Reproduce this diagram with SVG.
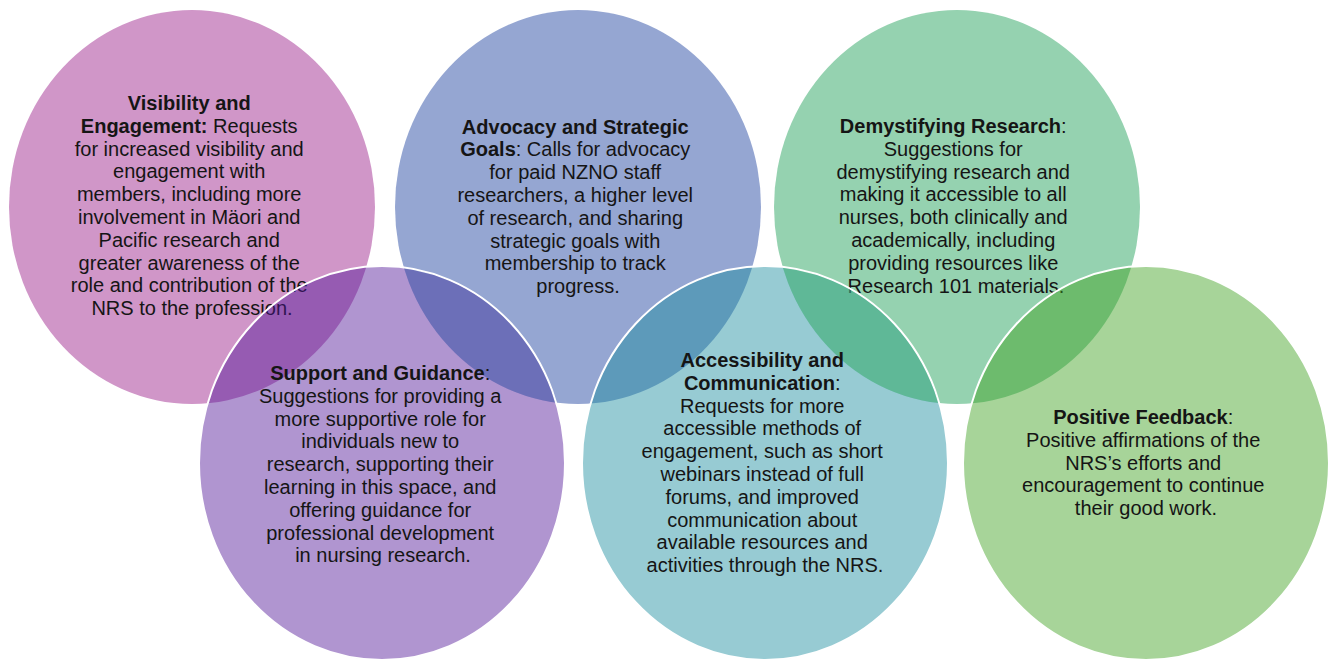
<svg xmlns="http://www.w3.org/2000/svg" width="1331" height="662" viewBox="0 0 1331 662">
<style>
  .t { font-family: "Liberation Sans", Arial, sans-serif; font-size: 20px; fill: #151515; text-anchor: middle; }
  .b { font-weight: bold; }
  .bot { fill-opacity: 0.45; stroke: #ffffff; stroke-width: 2; }
  .tint { opacity: 0.3; }
</style>
<defs>
  <clipPath id="clip-support"><ellipse cx="382" cy="463" rx="182" ry="196"/></clipPath>
  <clipPath id="clip-access"><ellipse cx="765" cy="463" rx="182" ry="196"/></clipPath>
</defs>
<rect width="1331" height="662" fill="#ffffff"/>
<g id="node-visibility">
  <ellipse cx="192" cy="207" rx="183" ry="197" fill="#d096c8"/>
  <text class="t" y="110">
    <tspan x="192" class="b">Visibility and</tspan>
    <tspan x="192" dy="22.8"><tspan class="b">Engagement:</tspan> Requests</tspan>
    <tspan x="192" dy="22.8">for increased visibility and</tspan>
    <tspan x="192" dy="22.8">engagement with</tspan>
    <tspan x="192" dy="22.8">members, including more</tspan>
    <tspan x="192" dy="22.8">involvement in Mäori and</tspan>
    <tspan x="192" dy="22.8">Pacific research and</tspan>
    <tspan x="192" dy="22.8">greater awareness of the</tspan>
    <tspan x="192" dy="22.8">role and contribution of the</tspan>
    <tspan x="192" dy="22.8">NRS to the profession.</tspan>
  </text>
</g>
<g id="node-advocacy">
  <ellipse cx="578" cy="207" rx="183" ry="197" fill="#95a6d2"/>
  <text class="t" y="133.5">
    <tspan x="578" class="b">Advocacy and Strategic</tspan>
    <tspan x="578" dy="22.8"><tspan class="b">Goals</tspan>: Calls for advocacy</tspan>
    <tspan x="578" dy="22.8">for paid NZNO staff</tspan>
    <tspan x="578" dy="22.8">researchers, a higher level</tspan>
    <tspan x="578" dy="22.8">of research, and sharing</tspan>
    <tspan x="578" dy="22.8">strategic goals with</tspan>
    <tspan x="578" dy="22.8">membership to track</tspan>
    <tspan x="578" dy="22.8">progress.</tspan>
  </text>
</g>
<g id="node-demystifying">
  <ellipse cx="957" cy="207" rx="183" ry="197" fill="#95d2b0"/>
  <text class="t" y="133">
    <tspan x="956" dy="0"><tspan class="b">Demystifying Research</tspan>:</tspan>
    <tspan x="956" dy="22.8">Suggestions for</tspan>
    <tspan x="956" dy="22.8">demystifying research and</tspan>
    <tspan x="956" dy="22.8">making it accessible to all</tspan>
    <tspan x="956" dy="22.8">nurses, both clinically and</tspan>
    <tspan x="956" dy="22.8">academically, including</tspan>
    <tspan x="956" dy="22.8">providing resources like</tspan>
    <tspan x="956" dy="22.8">Research 101 materials.</tspan>
  </text>
</g>
<g id="node-support">
  <ellipse class="bot" cx="382" cy="463" rx="183" ry="197" fill="#4f1397"/>
  <ellipse class="tint" clip-path="url(#clip-support)" cx="578" cy="207" rx="183" ry="197" fill="#558cbe"/>
  <text class="t" y="380">
    <tspan x="383" dy="0"><tspan class="b">Support and Guidance</tspan>:</tspan>
    <tspan x="383" dy="22.8">Suggestions for providing a</tspan>
    <tspan x="383" dy="22.8">more supportive role for</tspan>
    <tspan x="383" dy="22.8">individuals new to</tspan>
    <tspan x="383" dy="22.8">research, supporting their</tspan>
    <tspan x="383" dy="22.8">learning in this space, and</tspan>
    <tspan x="383" dy="22.8">offering guidance for</tspan>
    <tspan x="383" dy="22.8">professional development</tspan>
    <tspan x="383" dy="22.8">in nursing research.</tspan>
  </text>
</g>
<g id="node-accessibility">
  <ellipse class="bot" cx="765" cy="463" rx="183" ry="197" fill="#188b9d"/>
  <ellipse class="tint" clip-path="url(#clip-access)" cx="957" cy="207" rx="183" ry="197" fill="#64c673"/>
  <text class="t" y="367">
    <tspan x="765" class="b">Accessibility and</tspan>
    <tspan x="765" dy="22.8"><tspan class="b">Communication</tspan>:</tspan>
    <tspan x="765" dy="22.8">Requests for more</tspan>
    <tspan x="765" dy="22.8">accessible methods of</tspan>
    <tspan x="765" dy="22.8">engagement, such as short</tspan>
    <tspan x="765" dy="22.8">webinars instead of full</tspan>
    <tspan x="765" dy="22.8">forums, and improved</tspan>
    <tspan x="765" dy="22.8">communication about</tspan>
    <tspan x="765" dy="22.8">available resources and</tspan>
    <tspan x="765" dy="22.8">activities through the NRS.</tspan>
  </text>
</g>
<g id="node-positive">
  <ellipse class="bot" cx="1146" cy="463" rx="183" ry="197" fill="#3b9f1c"/>
  <text class="t" y="424">
    <tspan x="1146" dy="0"><tspan class="b">Positive Feedback</tspan>:</tspan>
    <tspan x="1146" dy="22.8">Positive affirmations of the</tspan>
    <tspan x="1146" dy="22.8">NRS’s efforts and</tspan>
    <tspan x="1146" dy="22.8">encouragement to continue</tspan>
    <tspan x="1146" dy="22.8">their good work.</tspan>
  </text>
</g>
</svg>
